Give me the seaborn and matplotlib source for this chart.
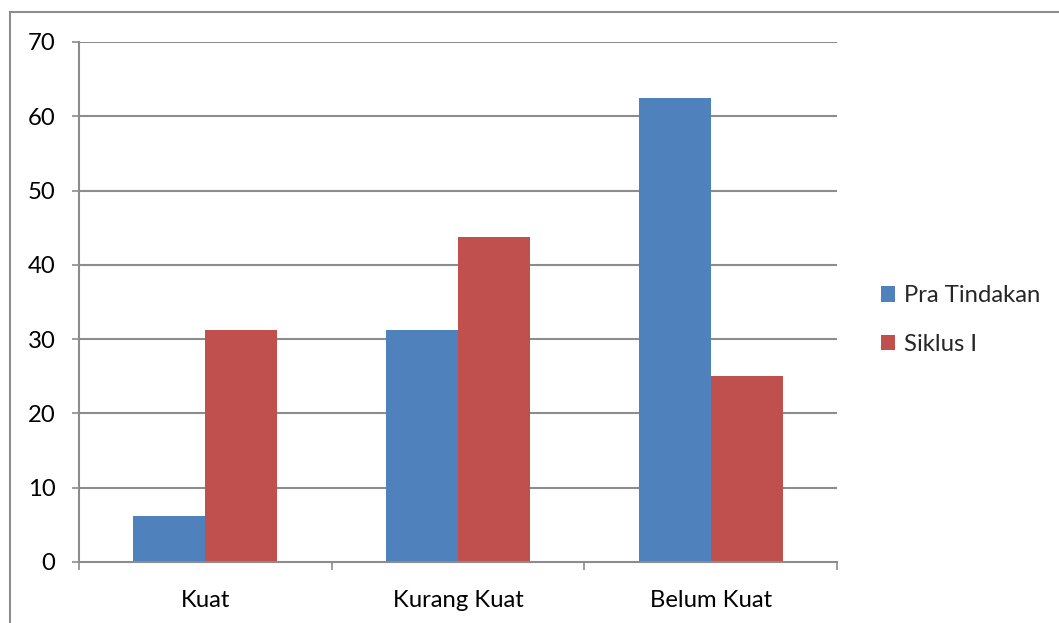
import matplotlib
matplotlib.use("Agg")
import matplotlib.pyplot as plt
from matplotlib.patches import Rectangle, Patch
import seaborn as sns
import pandas as pd

categories = ["Kuat", "Kurang Kuat", "Belum Kuat"]
series_names = ["Pra Tindakan", "Siklus I"]
pra_tindakan = [6.25, 31.25, 62.5]
siklus_1 = [31.25, 43.75, 25.0]
y_ticks = [0, 10, 20, 30, 40, 50, 60, 70]

colors = ["#4F81BD", "#C0504D"]
grid_col = "#8C8C8C"
fs = 17.2

df = pd.DataFrame({
    "kategori": categories * 2,
    "seri": [series_names[0]] * 3 + [series_names[1]] * 3,
    "nilai": pra_tindakan + siklus_1,
})

sns.set_theme(style="white")
plt.rcParams["font.family"] = ["Lato", "DejaVu Sans"]

W, H = 1059, 623
fig = plt.figure(figsize=(W / 100, H / 100), dpi=100)
ax = fig.add_axes([79 / W, (H - 562) / H, (837 - 79) / W, (562 - 42) / H])

sns.barplot(data=df, x="kategori", y="nilai", hue="seri", order=categories,
            hue_order=series_names, palette=colors, width=0.571, gap=0,
            saturation=1, ax=ax, legend=False, edgecolor="none", linewidth=0)

ax.set_xlim(-0.5, 2.5)
ax.set_ylim(0, 70)
ax.set_yticks(y_ticks)
ax.set_yticklabels([str(v) for v in y_ticks])
ax.set_xlabel("")
ax.set_ylabel("")

for v in y_ticks[1:]:
    ax.axhline(v, color=grid_col, lw=1.5, zorder=0)

for side in ["top", "right"]:
    ax.spines[side].set_visible(False)
for side in ["left", "bottom"]:
    ax.spines[side].set_color(grid_col)
    ax.spines[side].set_linewidth(1.5)

ax.tick_params(axis="y", direction="out", length=5, width=1.2, color=grid_col,
               labelsize=fs, pad=12, left=True)
ax.tick_params(axis="x", which="major", length=0, labelsize=fs, pad=20)
ax.set_xticks([-0.5, 0.5, 1.5, 2.5], minor=True)
ax.tick_params(axis="x", which="minor", direction="out", length=6, width=1.2,
               color=grid_col, bottom=True)
for lbl in ax.get_yticklabels() + ax.get_xticklabels():
    lbl.set_color("#000000")

handles = [Patch(facecolor=c, edgecolor="none") for c in colors]
fig.legend(handles, series_names, loc="center left",
           bbox_to_anchor=(859 / W, 1 - 320 / H), frameon=False,
           fontsize=fs, handlelength=0.62, handleheight=0.62,
           handletextpad=0.35, labelspacing=1.15)

frame_top = (H - 12) / H
fig.patches.append(Rectangle((10 / W, -0.2), 1.2, frame_top + 0.2,
                             transform=fig.transFigure, fill=False,
                             edgecolor=grid_col, lw=1.5))

fig.savefig("out.png", dpi=100)
